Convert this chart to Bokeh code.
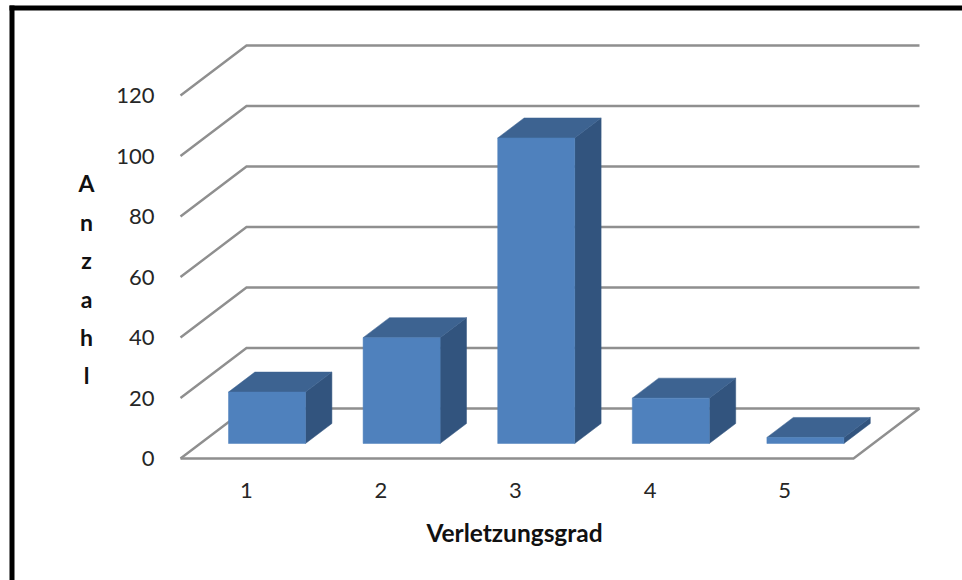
from bokeh.plotting import figure
from bokeh.models import Label, Range1d, FixedTicker
from bokeh.embed import file_html
from bokeh.resources import INLINE

# Data
categories = [1, 2, 3, 4, 5]
values = [17, 35, 101, 15, 2]
y_ticks = [0, 20, 40, 60, 80, 100, 120]
y_title = ["A", "n", "z", "a", "h", "l"]
x_title = "Verletzungsgrad"

# Layout (page pixels)
W, H = 962, 580
X0_PX, CAT_PX = 178.5, 134.6   # position of category edge 0.5; width of a category
LINE_OFF = 1.5 / CAT_PX        # the floor starts slightly right of the label grid
BAR_OFF = 0.9 / CAT_PX         # the bars sit slightly right of the label grid
Y0_PX, UNIT_PX = 458, 3.025    # value 0 on the front edge; pixels per unit
DX_PX, DY_PX = 66, 50          # depth of the floor
dx, dy = DX_PX / CAT_PX, DY_PX / UNIT_PX

FRONT_C, TOP_C, SIDE_C = "#4F81BD", "#3D6391", "#32547E"
GRID_C = "#8F8F8F"
TEXT_C = "#262626"
HALF, Z1, Z2 = 0.286, 0.3, 0.7
X_START, X_END = 0.5 + LINE_OFF, len(categories) + 0.5 + LINE_OFF


def px_x(v):
    return 0.5 + (v - X0_PX) / CAT_PX


def px_y(v):
    return (Y0_PX - v) / UNIT_PX


p = figure(
    width=W, height=H, output_backend="svg", toolbar_location=None,
    x_range=Range1d(px_x(0), px_x(W)), y_range=Range1d(px_y(H), px_y(0)),
    min_border=0, background_fill_color="white", border_fill_color="white",
    outline_line_color=None, tools="",
)
p.grid.visible = False

p.xaxis.fixed_location = 0
p.yaxis.fixed_location = X_START
for ax, ticks, standoff in ((p.xaxis, categories, 18), (p.yaxis, y_ticks, 20)):
    ax.ticker = FixedTicker(ticks=ticks)
    ax.axis_line_color = None
    ax.major_tick_line_color = None
    ax.minor_tick_line_color = None
    ax.major_label_text_font = "Lato"
    ax.major_label_text_font_size = "22px"
    ax.major_label_text_color = TEXT_C
    ax.major_label_standoff = standoff

# Wall grid lines with their diagonals, then the floor's front and right edges
xs, ys = [], []
for v in y_ticks:
    xs.append([X_START, X_START + dx, X_END + dx])
    ys.append([v, v + dy, v + dy])
xs.append([X_START, X_END, X_END + dx])
ys.append([0, 0, dy])
p.multi_line(xs, ys, line_color=GRID_C, line_width=2.4, line_join="miter")


def fx(x, z):
    return x + z * dx


def fy(y, z):
    return y + z * dy


# Bars as oblique boxes
for c, v in zip(categories, values):
    l, r = c + BAR_OFF - HALF, c + BAR_OFF + HALF
    p.patch([fx(r, Z1), fx(r, Z2), fx(r, Z2), fx(r, Z1)],
            [fy(0, Z1), fy(0, Z2), fy(v, Z2), fy(v, Z1)],
            fill_color=SIDE_C, line_color=SIDE_C, line_width=0.5)
    p.patch([fx(l, Z1), fx(l, Z2), fx(r, Z2), fx(r, Z1)],
            [fy(v, Z1), fy(v, Z2), fy(v, Z2), fy(v, Z1)],
            fill_color=TOP_C, line_color=TOP_C, line_width=0.5)
    p.patch([fx(l, Z1), fx(r, Z1), fx(r, Z1), fx(l, Z1)],
            [fy(0, Z1), fy(0, Z1), fy(v, Z1), fy(v, Z1)],
            fill_color=FRONT_C, line_color=FRONT_C, line_width=0.5)

# Titles
for ch, cy in zip(y_title, [182, 221, 259, 298, 336, 374]):
    p.add_layout(Label(x=px_x(86), y=px_y(cy), text=ch, text_font="Lato",
                       text_font_style="bold", text_font_size="23px",
                       text_color="#111111", text_align="center", text_baseline="middle"))
p.add_layout(Label(x=px_x(514), y=px_y(532), text=x_title, text_font="Lato",
                   text_font_style="bold", text_font_size="24.5px",
                   text_color="#111111", text_align="center", text_baseline="middle"))

# Black picture frame, top and left
p.quad(left=[px_x(9), px_x(9)], right=[px_x(14), px_x(W)],
       top=[px_y(5), px_y(5)], bottom=[px_y(H), px_y(10)],
       fill_color="black", line_color=None)

open("out.html", "w").write(file_html(p, INLINE))
